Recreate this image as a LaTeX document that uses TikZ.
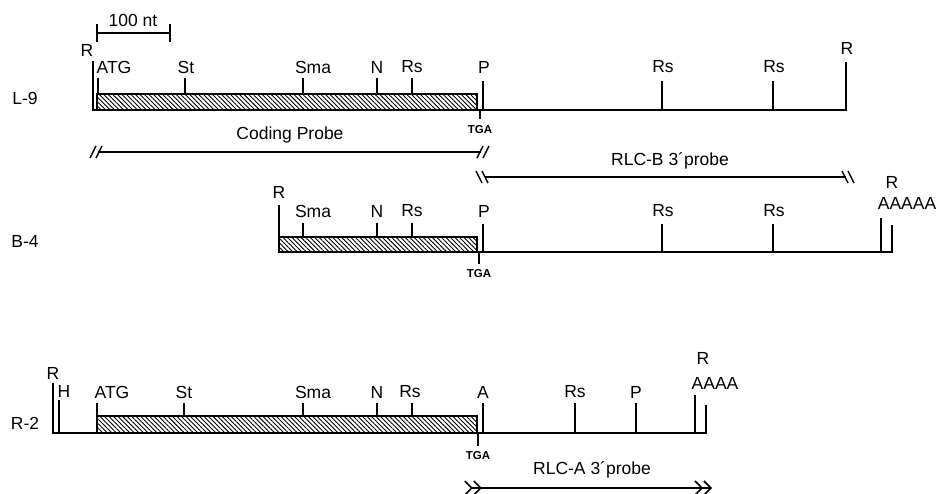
\documentclass[tikz,border=0pt]{standalone}
\usepackage{fontspec}
\setmainfont{Liberation Sans}
\usetikzlibrary{patterns.meta,arrows.meta}

\tikzset{
  dna/.style={line width=1.4pt},
  lbl/.style={font=\fontsize{17.5}{20}\selectfont, inner sep=0pt},
  tga/.style={font=\fontsize{11.5}{13}\selectfont\bfseries, inner sep=0pt},
  cds/.style={draw, line width=1.4pt,
    pattern={Lines[angle=-45,distance=3.2pt,line width=0.9pt]}},
  chev/.tip={Straight Barb[length=7pt,width=14pt,line width=1.6pt]},
  chevr/.tip={Straight Barb[length=7pt,width=14pt,line width=1.6pt,reversed]},
}

\begin{document}
\begin{tikzpicture}[x=1pt,y=-1pt]
  \useasboundingbox (0,0) rectangle (941,493);

  % Massstab
  \coordinate (sa) at (97,33);
  \coordinate (sb) at (170,33);
  \draw[dna] (sa) -- (sb);
  \draw[dna] (97,24) -- (97,42) (170,24) -- (170,42);
  \node[lbl] (scale) at (133,20) {100 nt};

  % Klon L-9
  \node[lbl] (l9) at (25,98) {L-9};
  \draw[cds] (97,94) rectangle (477,110);
  \draw[dna] (93,61) -- (93,110) -- (97,110);
  \draw[dna] (477,110) -- (846,110) -- (846,62);
  \node[lbl] (l9r) at (87,50) {R};
  \node[lbl] (l9r2) at (847,48) {R};
  \foreach \x/\lx/\t in {98/114/ATG,185/186/St,303/313/Sma,377/377/N,412/412/Rs}
    \draw[dna] (\x,78) -- (\x,94) node[lbl] at (\lx,67) {\t};
  \foreach \x/\t in {483/P,662/Rs,773/Rs}
    \draw[dna] (\x,81) -- (\x,110) node[lbl] at (\x+1,67) {\t};
  \draw[dna] (480,110) -- (480,119);
  \node[tga] (l9tga) at (480,130) {TGA};

  % Sonden
  \coordinate (cpa) at (98,152);
  \coordinate (cpb) at (481,152);
  \draw[dna] (cpa) -- (cpb);
  \foreach \x in {93,99,480,486}
    \draw[dna] (\x-3,158) -- (\x+3,146);
  \node[lbl] (cprobe) at (290,135) {Coding Probe};

  \coordinate (rba) at (485,177);
  \coordinate (rbb) at (846,177);
  \draw[dna] (rba) -- (rbb);
  \foreach \x in {479,485,845,851}
    \draw[dna] (\x-3,171) -- (\x+3,183);
  \node[lbl] (rlcb) at (670,161) {RLC-B 3´probe};

  % Klon B-4
  \node[lbl] (b4) at (25,241) {B-4};
  \draw[cds] (279,237) rectangle (477,252);
  \draw[dna] (279,205) -- (279,237);
  \draw[dna] (477,252) -- (892,252) -- (892,225);
  \draw[dna] (881,218) -- (881,252);
  \node[lbl] (b4r) at (279,192) {R};
  \node[lbl] (b4r2) at (892,182) {R};
  \node[lbl] (b4poly) at (907,203) {AAAAA};
  \foreach \x/\lx/\t in {303/313/Sma,377/377/N,412/412/Rs}
    \draw[dna] (\x,223) -- (\x,237) node[lbl] at (\lx,211) {\t};
  \foreach \x/\t in {483/P,662/Rs,773/Rs}
    \draw[dna] (\x,224) -- (\x,252) node[lbl] at (\x+1,211) {\t};
  \draw[dna] (479,252) -- (479,264);
  \node[tga] (b4tga) at (479,274) {TGA};

  % Klon R-2
  \node[lbl] (r2) at (25,423) {R-2};
  \draw[cds] (97,416) rectangle (477,433);
  \draw[dna] (53,383) -- (53,433) -- (97,433);
  \draw[dna] (59,400) -- (59,433);
  \draw[dna] (477,433) -- (706,433) -- (706,405);
  \draw[dna] (695,395) -- (695,433);
  \node[lbl] (r2r) at (53,373) {R};
  \node[lbl] (r2h) at (64,391) {H};
  \node[lbl] (r2r2) at (703,358) {R};
  \node[lbl] (r2poly) at (715,383) {AAAA};
  \foreach \x/\lx/\t in {97/112/ATG,184/184/St,303/313/Sma,377/377/N,412/410/Rs}
    \draw[dna] (\x,403) -- (\x,416) node[lbl] at (\lx,392) {\t};
  \foreach \x/\t in {483/A,575/Rs,636/P}
    \draw[dna] (\x,403) -- (\x,433) node[lbl] at (\x,392) {\t};
  \draw[dna] (478,433) -- (478,446);
  \node[tga] (r2tga) at (478,456) {TGA};

  \coordinate (raa) at (464,488);
  \coordinate (rab) at (712,488);
  \draw[dna, {chevr[]chevr[]}-{chev[]chev[]}] (raa) -- (rab);
  \node[lbl] (rlca) at (592,470) {RLC-A 3´probe};
\end{tikzpicture}
\end{document}
